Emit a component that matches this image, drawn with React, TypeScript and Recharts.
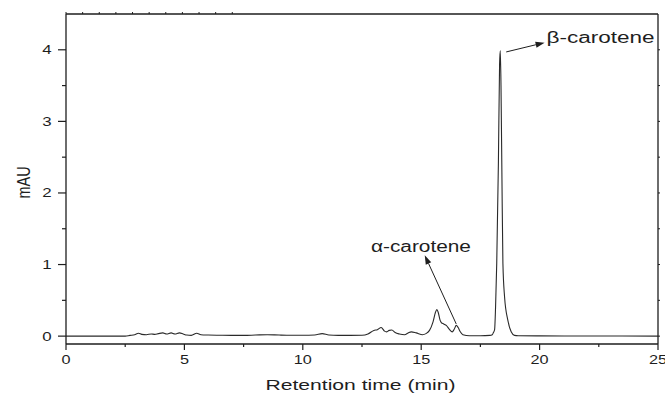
import React from 'react';
import { LineChart, Line, XAxis, YAxis, ReferenceLine, ReferenceDot } from 'recharts';

const times = [
  0, 2.5, 2.7, 2.9, 3.06, 3.2, 3.4, 3.6, 3.75, 3.9, 4.09, 4.25, 4.44, 4.6, 4.79, 4.95, 5.1, 5.29, 5.52, 5.7,
  6.0, 6.5, 7.0, 7.5, 8.0, 8.5, 9.0, 9.5, 10.0, 10.5, 10.82, 11.1, 11.5, 12.0, 12.5, 12.75, 13.0, 13.15, 13.31,
  13.45, 13.53, 13.65, 13.76, 13.9, 14.08, 14.3, 14.45, 14.58, 14.79, 15.06, 15.2, 15.35, 15.5, 15.6, 15.66,
  15.72, 15.8, 15.85, 15.95, 16.06, 16.2, 16.31, 16.4, 16.48, 16.56, 16.65, 16.76, 17.04, 17.5, 17.9, 18.0,
  18.05, 18.1, 18.14, 18.19, 18.26, 18.31, 18.34, 18.37, 18.41, 18.45, 18.52, 18.66, 18.8, 18.94, 19.1, 20,
  22, 23.35, 25,
];
const signal = [
  0, 0, 0.01, 0.02, 0.04, 0.025, 0.02, 0.03, 0.025, 0.035, 0.045, 0.03, 0.045, 0.03, 0.045, 0.03, 0.015, 0.01, 0.04, 0.02,
  0.015, 0.012, 0.01, 0.01, 0.015, 0.02, 0.015, 0.012, 0.012, 0.015, 0.035, 0.015, 0.01, 0.01, 0.012, 0.03, 0.08, 0.09, 0.12,
  0.07, 0.06, 0.08, 0.085, 0.05, 0.03, 0.02, 0.045, 0.06, 0.045, 0.02, 0.035, 0.08, 0.2, 0.33, 0.37,
  0.33, 0.22, 0.19, 0.17, 0.15, 0.09, 0.06, 0.1, 0.15, 0.12, 0.06, 0.02, 0.005, 0.005, 0.01, 0.02,
  0.05, 0.09, 0.4, 1.02, 2.42, 3.8, 3.99, 3.5, 2.2, 1.02, 0.55, 0.22, 0.06, 0.01, 0.005, 0.003,
  0.002, 0.002, 0,
];
const xTicks = [0, 2.5, 5, 7.5, 10, 12.5, 15, 17.5, 20, 22.5, 25];
const yTicks = [0, 0.5, 1, 1.5, 2, 2.5, 3, 3.5, 4];
const xDomain = [0, 25];
const yDomain = [-0.11, 4.5];
const xTitle = 'Retention time (min)';
const yTitle = 'mAU';
const alphaLabel = 'α-carotene';
const betaLabel = 'β-carotene';
const alphaArrow = [{ x: 16.48, y: 0.17 }, { x: 15.15, y: 1.13 }];
const betaArrow = [{ x: 18.59, y: 3.97 }, { x: 20.21, y: 4.1 }];
const alphaText = { x: 14.99, y: 1.18 };
const betaText = { x: 20.29, y: 4.095 };

const data = times.map((t, i) => ({ t, v: signal[i] }));

const FONT = '"Liberation Sans", Arial, Helvetica, sans-serif';
const INK = '#1e1e1e';

const XTick = (props: any) => {
  const { x, y, payload } = props;
  const major = payload.value % 5 === 0;
  return (
    <g>
      <line x1={x} x2={x} y1={y} y2={y + (major ? 6 : 3)} stroke={INK} strokeWidth={1.2} />
      {major && (
        <text transform={`translate(${x},${y + 20}) scale(1.25,1)`} textAnchor="middle" fontSize={13} fontFamily={FONT} fill={INK}>
          {payload.value}
        </text>
      )}
    </g>
  );
};

const YTick = (props: any) => {
  const { x, y, payload } = props;
  const major = Number.isInteger(payload.value);
  return (
    <g>
      <line x1={x - (major ? 8 : 4)} x2={x} y1={y} y2={y} stroke={INK} strokeWidth={1.2} />
      {major && (
        <text transform={`translate(${x - 14.3},${y + 4.5}) scale(1.35,1)`} textAnchor="end" fontSize={12.5} fontFamily={FONT} fill={INK}>
          {payload.value}
        </text>
      )}
    </g>
  );
};

const TopTick = (props: any) => {
  const { x, y } = props;
  return <line x1={x} x2={x} y1={y} y2={y - 2} stroke={INK} strokeWidth={1} />;
};

const RightTick = (props: any) => {
  const { x, y } = props;
  return <line x1={x} x2={x + 2} y1={y} y2={y} stroke={INK} strokeWidth={1} />;
};

const arrowShape = (p: any) => {
  const { x1, y1, x2, y2 } = p;
  const dx = x2 - x1;
  const dy = y2 - y1;
  const len = Math.sqrt(dx * dx + dy * dy) || 1;
  const ux = dx / len;
  const uy = dy / len;
  const hl = 9;
  const hw = 3;
  const bx = x2 - ux * hl;
  const by = y2 - uy * hl;
  const pts = `${x2},${y2} ${bx - uy * hw},${by + ux * hw} ${bx + uy * hw},${by - ux * hw}`;
  return (
    <g>
      <line x1={x1} y1={y1} x2={bx} y2={by} stroke={INK} strokeWidth={1} />
      <polygon points={pts} fill={INK} />
    </g>
  );
};

const labelShape = (text: string, anchor: string, len: number) => (p: any) => (
  <text
    x={p.cx}
    y={p.cy}
    textAnchor={anchor}
    fontSize={16}
    fontFamily={FONT}
    fill={INK}
    textLength={len}
    lengthAdjust="spacingAndGlyphs"
  >
    {text}
  </text>
);

export default function App() {
  return (
    <div style={{ position: 'absolute', left: 0, top: 0, width: 665, height: 393, background: '#fff' }}>
      <LineChart width={665} height={393} data={data} margin={{ top: 0, right: 0, bottom: 0, left: 0 }}>
        <XAxis
          dataKey="t"
          type="number"
          domain={xDomain}
          ticks={xTicks}
          interval={0}
          height={49}
          tickSize={0}
          tickMargin={0}
          tickLine={false}
          tick={<XTick />}
          axisLine={{ stroke: INK, strokeWidth: 1.3 }}
          allowDataOverflow
        />
        <XAxis
          xAxisId="top"
          orientation="top"
          type="number"
          domain={xDomain}
          ticks={xTicks}
          interval={0}
          height={14}
          tickSize={0}
          tickMargin={0}
          tickLine={false}
          tick={<TopTick />}
          axisLine={{ stroke: INK, strokeWidth: 1.3 }}
          allowDataOverflow
        />
        <YAxis
          type="number"
          domain={yDomain}
          ticks={yTicks}
          interval={0}
          width={66}
          tickSize={0}
          tickMargin={0}
          tickLine={false}
          tick={<YTick />}
          axisLine={{ stroke: INK, strokeWidth: 1.3 }}
          allowDataOverflow
        />
        <YAxis
          yAxisId="right"
          orientation="right"
          type="number"
          domain={yDomain}
          ticks={yTicks}
          interval={0}
          width={7}
          tickSize={0}
          tickMargin={0}
          tickLine={false}
          tick={<RightTick />}
          axisLine={{ stroke: INK, strokeWidth: 1.3 }}
          allowDataOverflow
        />
        <Line
          type="monotone"
          dataKey="v"
          stroke="#2a2a2a"
          strokeWidth={1.1}
          dot={false}
          activeDot={false}
          isAnimationActive={false}
        />
        <ReferenceLine segment={alphaArrow} shape={arrowShape} ifOverflow="visible" />
        <ReferenceLine segment={betaArrow} shape={arrowShape} ifOverflow="visible" />
        <ReferenceDot x={alphaText.x} y={alphaText.y} r={0} ifOverflow="visible" shape={labelShape(alphaLabel, 'middle', 100)} />
        <ReferenceDot x={betaText.x} y={betaText.y} r={0} ifOverflow="visible" shape={labelShape(betaLabel, 'start', 108)} />
      </LineChart>
      <svg width={665} height={393} style={{ position: 'absolute', left: 0, top: 0, pointerEvents: 'none' }}>
        <text x={265.5} y={389.5} fontSize={13.8} fontFamily={FONT} fill={INK} textLength={190} lengthAdjust="spacingAndGlyphs">
          {xTitle}
        </text>
        <text transform="translate(30,182.5) rotate(-90) scale(1,1.25)" textAnchor="middle" fontSize={14.5} fontFamily={FONT} fill={INK}>
          {yTitle}
        </text>
      </svg>
    </div>
  );
}
